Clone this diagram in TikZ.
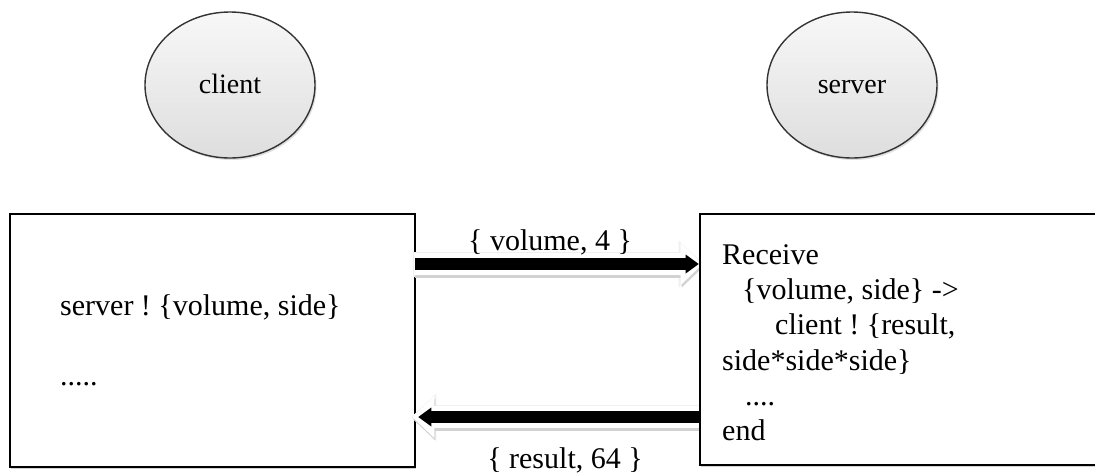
\documentclass[tikz,border=0pt]{standalone}
\usepackage{fontspec}
\setmainfont{Liberation Serif}
\usetikzlibrary{arrows.meta,shapes.geometric,shadows}
\pgfdeclarelayer{front}
\pgfsetlayers{main,front}
\frenchspacing
\begin{document}
\begin{tikzpicture}[x=1pt,y=-1pt,
  txt/.style={font=\fontsize{30}{35}\selectfont, inner sep=0pt, anchor=base west, text=black},
  lbl/.style={font=\fontsize{30}{35}\selectfont, inner sep=0pt, anchor=base, text=black},
  proc/.style={ellipse, draw=black!80, line width=1.4pt, minimum width=170pt, minimum height=146pt,
    inner sep=0pt, top color=gray!6, bottom color=gray!26, text height=20pt, text depth=4pt,
    drop shadow={opacity=0.25, shadow xshift=1.5pt, shadow yshift=-2pt},
    font=\fontsize{28}{34}\selectfont},
  box/.style={draw=black, fill=white, line width=2.6pt, rectangle, inner sep=0pt,
    drop shadow={opacity=0.35, shadow xshift=1pt, shadow yshift=-1.5pt}},
  arrowhalo/.style={draw=gray!12, line width=25pt,
    -{Triangle[length=25pt,width=47pt,line width=0pt]}},
  arrowshadow/.style={draw=gray!35, line width=22pt,
    -{Triangle[length=22pt,width=42pt,line width=0pt]},
    transform canvas={shift={(1pt,-2.5pt)}}},
  arrowwhite/.style={draw=white, line width=22pt,
    -{Triangle[length=22pt,width=42pt,line width=0pt]}},
  arrowblack/.style={draw=black, line width=12pt,
    -{Triangle[length=13pt,width=19pt,line width=0pt]}}
]
\clip (0,0) rectangle (1095,475);
\fill[white] (0,0) rectangle (1095,475);

% processes
\node[proc] (client) at (230,85) {client};
\node[proc] (server) at (852,85) {server};

% left box
\node[box, minimum width=405pt, minimum height=253pt] (lbox) at (212.5,340.5) {};
\node[txt] (l1) at (60,315) {server ! \{volume, side\}};
\node[txt] (l2) at (60,385) {.....};

% right box (on front layer, above the arrows)
\begin{pgfonlayer}{front}
\node[box, minimum width=410pt, minimum height=251pt] (rbox) at (905,339.5) {};
\node[txt] (r1) at (722,264) {Receive};
\node[txt] (r2) at (742,299) {\{volume, side\} ->};
\node[txt] (r3) at (775,334.5) {client ! \{result,};
\node[txt] (r4) at (722,370) {side*side*side\}};
\node[txt] (r5) at (745,405) {....};
\node[txt] (r6) at (722,440) {end};
\end{pgfonlayer}

% messages
\coordinate (ty) at (0,264);
\coordinate (by) at (0,417);
\draw[arrowhalo, shorten <=-3pt, shorten >=-5pt] (lbox.east |- ty) -- (rbox.west |- ty);
\draw[arrowshadow, shorten <=-2pt, shorten >=-4pt] (lbox.east |- ty) -- (rbox.west |- ty);
\draw[arrowwhite, shorten <=-2pt, shorten >=-4pt] (lbox.east |- ty) -- (rbox.west |- ty);
\draw[arrowblack, shorten <=-1pt] (lbox.east |- ty) -- (rbox.west |- ty);

\draw[arrowhalo, shorten <=-3pt, shorten >=-5pt] (rbox.west |- by) -- (lbox.east |- by);
\draw[arrowshadow, shorten <=-2pt, shorten >=-4pt] (rbox.west |- by) -- (lbox.east |- by);
\draw[arrowwhite, shorten <=-2pt, shorten >=-4pt] (rbox.west |- by) -- (lbox.east |- by);
\draw[arrowblack, shorten <=-0pt, shorten >=2pt] (rbox.west |- by) -- (lbox.east |- by);

\node[lbl] (m1) at (550,250) {\{ volume, 4 \}};
\node[lbl] (m2) at (565,468) {\{ result, 64 \}};
\end{tikzpicture}
\end{document}
